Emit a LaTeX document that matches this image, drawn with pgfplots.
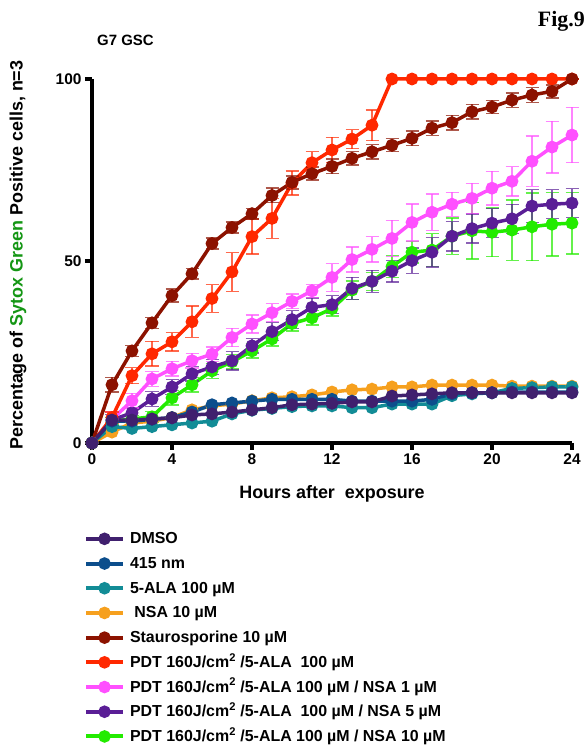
\documentclass[border=0pt]{standalone}
\usepackage{pgfplots}
\pgfplotsset{compat=1.18}
\usepackage{pgfplotstable}
\usepackage{fontspec}
\setmainfont{Liberation Sans}
\newfontfamily\figfont{Liberation Serif}
\definecolor{cdmso}{RGB}{64,32,110}
\definecolor{cblue}{RGB}{12,78,140}
\definecolor{cteal}{RGB}{18,140,150}
\definecolor{corange}{RGB}{246,160,30}
\definecolor{cdred}{RGB}{140,18,0}
\definecolor{cred}{RGB}{255,40,0}
\definecolor{cmag}{RGB}{255,80,255}
\definecolor{cpurp}{RGB}{90,30,150}
\definecolor{cgreen}{RGB}{35,235,0}
\definecolor{sgreen}{RGB}{20,150,20}

\pgfplotstableread{
h dmso b415 ala nsa
0 0 0 0 0
1 6.3 6 4.5 3
2 6.3 6 4 5.5
3 6.6 6.5 4.5 6
4 6.9 7 5 7
5 7.7 8.5 5.5 9.1
6 8 10.5 6 10.2
7 8.5 11 8 10.7
8 9.1 11.5 9 11.6
9 9.7 12 9.5 12.4
10 10.5 12 10 12.7
11 10.7 12 10.2 13.2
12 10.9 12 10.2 14
13 11.3 11.5 9.7 14.6
14 11.3 11.5 9.7 14.8
15 12.9 11.5 10.7 15.4
16 13.2 11.5 10.7 15.4
17 13.5 12 10.7 15.9
18 13.8 13.5 13 15.9
19 13.8 13.8 13.5 15.9
20 13.8 13.8 13.8 15.9
21 13.8 14 15 15.6
22 13.8 14 15.2 15.6
23 13.8 14 15.4 15.6
24 13.8 14 15.4 15.6
}\lowdata

\pgfplotstableread{
h sta esta pdt epdt p1 e1 p5 e5 p10 e10
0 0 0 0 0 0 0 0 0 0 0
1 16 2 7 1.5 6.5 2 6.3 1.5 6 1
2 25.3 1.5 18.5 2.2 11.6 2 8.3 1.5 6.6 1
3 33 1.5 24.5 3.4 17.6 2 12.1 2 7.2 1.5
4 40.5 1.8 27.8 2.5 20.4 2 15.4 2 12.4 2
5 46.5 1.5 33.3 4.3 22.6 2 19 2 16 2
6 54.8 1.5 39.7 3.8 24.4 2 20.9 2 19.8 2
7 59.2 1.5 47 5.3 29 2.5 22.6 2.5 22.3 2
8 63 1.5 56.7 4.8 32.7 2.5 26.7 2 25.3 2
9 68 2 61.7 5.5 35.8 2.5 30.6 2.5 28.6 2
10 71.6 1.8 71.4 3.3 38.9 2 33.9 2.5 32.8 2
11 74 1.8 77 3 41.8 1.8 37.3 2.5 34.4 2
12 76 2 80.5 3.5 45.5 3.8 38 2.5 36.9 2
13 78.2 1.8 83.5 2.6 50.4 3.4 42.5 3 42 2.5
14 80 2 87.3 4.2 53.2 3.5 44.4 3 44.4 2.5
15 81.8 1.8 100 0 56.2 5 47.2 3 48.5 3
16 83.7 2 100 0 60.6 5.1 50.1 3.5 52.4 3
17 86.5 2 100 0 63.4 5 52.4 4 53 4.5
18 88 2 100 0 65.6 3.3 56.8 4 56.8 5
19 91 2 100 0 67.2 4.1 58.9 4 58.3 7.7
20 92.3 1.8 100 0 70 4.6 60.4 4 57.9 6.7
21 94.2 2 100 0 71.9 4 61.6 4 58.5 8.3
22 95.6 2 100 0 77.4 6.9 65.1 4.5 59.4 9.3
23 96.6 1.8 100 0 81.3 7.1 65.6 4 60.1 8.7
24 100 0 100 0 84.6 7.6 65.9 4 60.4 8.5
}\highdata

\begin{document}
\begin{tikzpicture}
\useasboundingbox (0,0) rectangle (585bp,756bp);
\begin{axis}[
  at={(92bp,313bp)}, anchor=origin,
  scale only axis, width=480bp, height=364bp,
  xmin=0, xmax=24, ymin=0, ymax=100,
  axis x line=bottom, axis y line=left,
  axis line style={line width=4.2bp, -},
  xtick={0,4,...,24}, ytick={0,50,100},
  tick align=outside, major tick length=7bp,
  every tick/.style={black, line width=3.5bp},
  tick label style={font=\bfseries\fontsize{15.5}{15.5}\selectfont},
  /pgf/number format/assume math mode=true,
  clip=false,
  xlabel={Hours after\ \ exposure},
  xlabel style={font=\bfseries\fontsize{18}{18}\selectfont, at={(axis description cs:0.5,0)}, anchor=base, yshift=-55bp},
  ylabel={Percentage of \textcolor{sgreen}{Sytox Green} Positive cells, n=3},
  ylabel style={font=\bfseries\fontsize{18}{18}\selectfont, at={(axis description cs:-0.154,0.516)}, anchor=center},
  every axis plot/.append style={line width=3.5bp, mark=*, mark size=4.6bp, mark options={solid}},
  error bars/error bar style={line width=1.4bp, opacity=0.7},
  error bars/error mark options={rotate=90, mark size=6.5bp, line width=1.4bp, opacity=0.7},
  reverse legend,
  legend style={at={(axis description cs:-0.017,-0.238)}, anchor=north west, draw=none, fill=none, inner sep=0pt,
    font=\bfseries\fontsize{16}{16}\selectfont, row sep=6.7bp, column sep=3bp,
    nodes={inner sep=2bp, text height=12bp, text depth=2bp}},
  legend cell align=left,
  legend image code/.code={\draw[mark repeat=2,mark phase=2,line width=4bp,mark size=4.2bp] plot coordinates {(0bp,0bp) (18.5bp,0bp) (37bp,0bp)};},
]
\addplot[cgreen, mark options={fill=cgreen}, error bars/.cd, y dir=both, y explicit] table[x=h, y=p10, y error=e10] {\highdata};
\addlegendentry{PDT 160J/cm\textsuperscript{2} /5-ALA 100 µM / NSA 10 µM}
\addplot[cpurp, mark options={fill=cpurp}, error bars/.cd, y dir=both, y explicit] table[x=h, y=p5, y error=e5] {\highdata};
\addlegendentry{PDT 160J/cm\textsuperscript{2} /5-ALA\ \ 100 µM / NSA 5 µM}
\addplot[cmag, mark options={fill=cmag}, error bars/.cd, y dir=both, y explicit] table[x=h, y=p1, y error=e1] {\highdata};
\addlegendentry{PDT 160J/cm\textsuperscript{2} /5-ALA 100 µM / NSA 1 µM}
\addplot[cred, mark options={fill=cred}, error bars/.cd, y dir=both, y explicit] table[x=h, y=pdt, y error=epdt] {\highdata};
\addlegendentry{PDT 160J/cm\textsuperscript{2} /5-ALA\ \ 100 µM}
\addplot[cdred, mark options={fill=cdred}, error bars/.cd, y dir=both, y explicit] table[x=h, y=sta, y error=esta] {\highdata};
\addlegendentry{Staurosporine 10 µM}
\addplot[corange, mark options={fill=corange}] table[x=h, y=nsa] {\lowdata};
\addlegendentry{\ NSA 10 µM}
\addplot[cteal, mark options={fill=cteal}] table[x=h, y=ala] {\lowdata};
\addlegendentry{5-ALA 100 µM}
\addplot[cblue, mark options={fill=cblue}] table[x=h, y=b415] {\lowdata};
\addlegendentry{415 nm}
\addplot[cdmso, mark options={fill=cdmso}] table[x=h, y=dmso] {\lowdata};
\addlegendentry{DMSO}
\end{axis}
\node[anchor=base west, inner sep=0pt, font=\bfseries\fontsize{15}{15}\selectfont] at (97bp,710bp) {G7 GSC};
\node[anchor=base east, inner sep=0pt, font=\figfont\bfseries\fontsize{22}{22}\selectfont] at (585bp,729bp) {Fig.9};
\end{tikzpicture}
\end{document}
